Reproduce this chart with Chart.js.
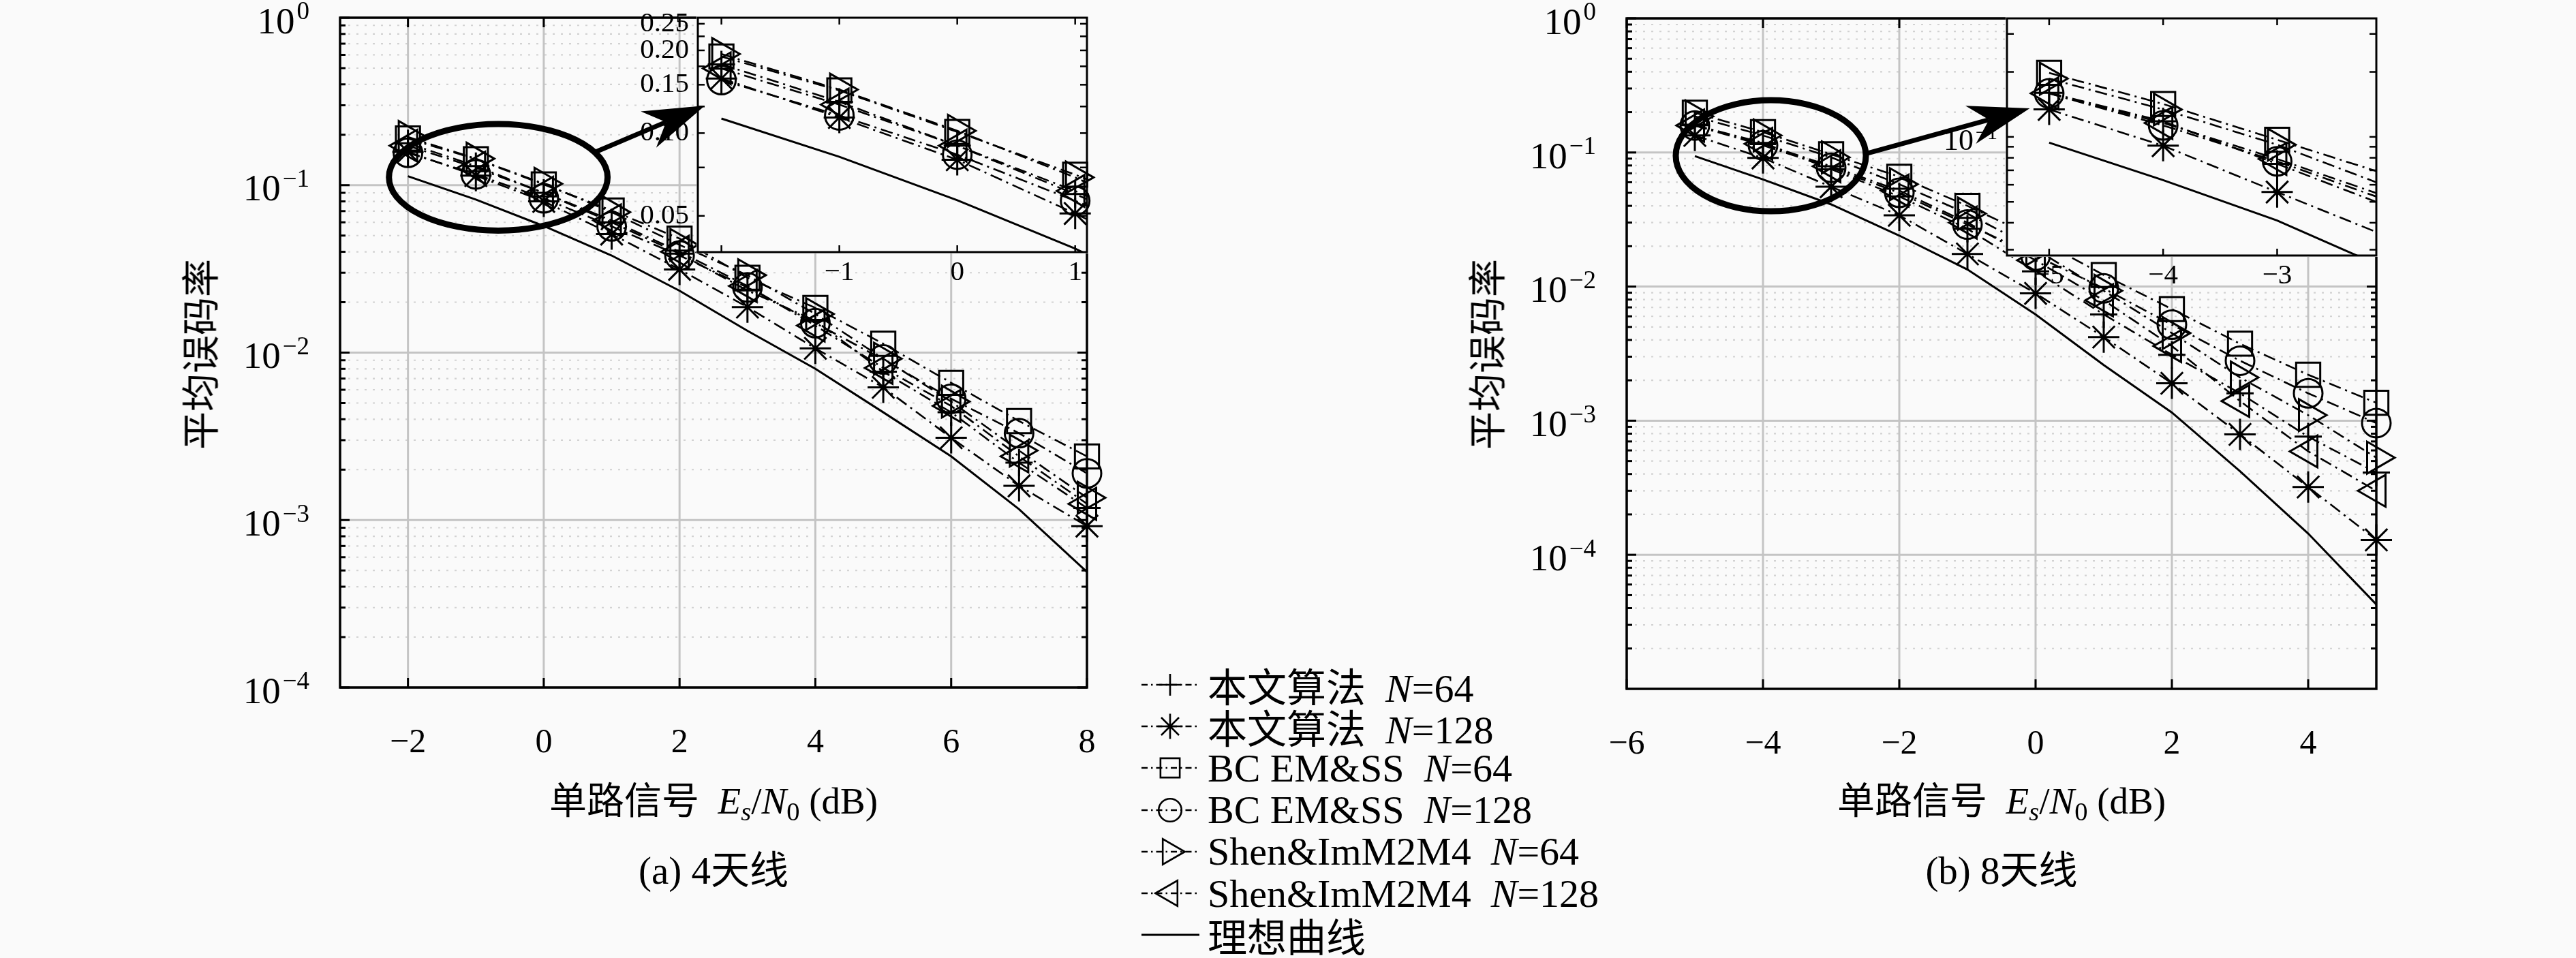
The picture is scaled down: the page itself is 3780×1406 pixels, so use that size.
<!DOCTYPE html>
<html>
<head>
<meta charset="utf-8">
<script src="https://cdn.jsdelivr.net/npm/chart.js@4.4.1/dist/chart.umd.min.js"></script>
<style>
html, body { margin: 0; padding: 0; background: #fafafa; }
body { width: 3780px; height: 1406px; position: relative; overflow: hidden;
       font-family: "Liberation Serif", "Noto Sans CJK SC", serif; color: #000; }
canvas { position: absolute; display: block; }
.lbl { position: absolute; white-space: nowrap; transform: translate(-50%, -50%); z-index: 5; }
.xt { font-size: 55px; }
.cap { font-size: 57px; }
.yt { font-size: 56px; transform: translate(-50%, -50%) rotate(-90deg); }
sub { font-size: 0.7em; vertical-align: -0.25em; line-height: 0; }
#legend { position: absolute; left: 1672px; top: 974px; z-index: 5; font-size: 58px; }
.row { height: 61.3px; display: flex; align-items: center; white-space: nowrap; }
.row canvas { position: static; width: 95px; height: 60px; margin-right: 5px; }
</style>
</head>
<body>

<canvas id="mainA" width="1700" height="1406" style="left:0;top:0;z-index:1"></canvas>
<canvas id="mainB" width="1780" height="1406" style="left:2000px;top:0;z-index:1"></canvas>
<canvas id="insetA" width="730" height="470" style="left:880px;top:0;z-index:2"></canvas>
<canvas id="insetB" width="700" height="470" style="left:2800px;top:0;z-index:2"></canvas>
<canvas id="overlay" width="3780" height="1406" style="left:0;top:0;z-index:3"></canvas>

<div class="lbl yt" style="left:290px;top:520px">平均误码率</div>
<div class="lbl yt" style="left:2178px;top:520px">平均误码率</div>
<div class="lbl xt" style="left:1047px;top:1170px">单路信号&ensp;<i>E</i><sub><i>s</i></sub>/<i>N</i><sub>0</sub>&nbsp;(dB)</div>
<div class="lbl xt" style="left:2937px;top:1170px">单路信号&ensp;<i>E</i><sub><i>s</i></sub>/<i>N</i><sub>0</sub>&nbsp;(dB)</div>
<div class="lbl cap" style="left:1047px;top:1272px">(a) 4天线</div>
<div class="lbl cap" style="left:2937px;top:1272px">(b) 8天线</div>
<div id="legend"></div>

<script>
// ---------- (a) 4 antennas ----------
var snrA = [-2, -1, 0, 1, 2, 3, 4, 5, 6, 7, 8];
var oursA64  = [0.178, 0.130, 0.090, 0.060, 0.039, 0.0235, 0.0155, 0.0077, 0.0044, 0.0022, 0.00118];
var oursA128 = [0.158, 0.114, 0.080, 0.051, 0.0314, 0.0187, 0.0106, 0.0062, 0.0031, 0.0016, 0.00092];
var bcA64    = [0.190, 0.143, 0.101, 0.0706, 0.048, 0.028, 0.0185, 0.0113, 0.0066, 0.0039, 0.0024];
var bcA128   = [0.156, 0.116, 0.0835, 0.0567, 0.038, 0.0245, 0.015, 0.0091, 0.0053, 0.0033, 0.0019];
var shenA64  = [0.194, 0.144, 0.102, 0.069, 0.044, 0.029, 0.017, 0.0092, 0.0051, 0.0026, 0.00136];
var shenA128 = [0.172, 0.127, 0.090, 0.0616, 0.040, 0.025, 0.0145, 0.0081, 0.0048, 0.0024, 0.00125];
var idealA   = [0.113, 0.082, 0.057, 0.038, 0.0234, 0.0135, 0.0080, 0.0044, 0.0024, 0.00116, 0.00049];

// ---------- (b) 8 antennas ----------
var snrB = [-5, -4, -3, -2, -1, 0, 1, 2, 3, 4, 5];
var oursB64  = [0.160, 0.118, 0.075, 0.047, 0.027, 0.013, 0.0062, 0.0031, 0.0016, 0.00076, 0.00041];
var oursB128 = [0.134, 0.091, 0.0555, 0.034, 0.0175, 0.0089, 0.0042, 0.0019, 0.00079, 0.00032, 0.000129];
var bcB64    = [0.198, 0.142, 0.097, 0.066, 0.040, 0.023, 0.0122, 0.0068, 0.00375, 0.0022, 0.00136];
var bcB128   = [0.159, 0.113, 0.077, 0.050, 0.029, 0.017, 0.0097, 0.0052, 0.0028, 0.0016, 0.00096];
var shenB64  = [0.186, 0.134, 0.092, 0.058, 0.035, 0.019, 0.0093, 0.0045, 0.0021, 0.0011, 0.00053];
var shenB128 = [0.159, 0.116, 0.079, 0.052, 0.030, 0.0157, 0.0079, 0.0036, 0.0014, 0.00059, 0.00030];
var idealB   = [0.094, 0.063, 0.041, 0.024, 0.0134, 0.0062, 0.0026, 0.00115, 0.00042, 0.000144, 0.0000426];

// legend text
var algNames = ["本文算法", "本文算法", "BC EM&SS", "BC EM&SS", "Shen&ImM2M4", "Shen&ImM2M4"];
var algN = [64, 128, 64, 128, 64, 128];
var idealName = "理想曲线";

// ticks
var xTicksA = [-2, 0, 2, 4, 6, 8];
var xTicksB = [-6, -4, -2, 0, 2, 4];
var yExpA = [0, -1, -2, -3, -4];
var yExpB = [0, -1, -2, -3, -4];
var inAxTicks = [-2, -1, 0, 1];
var inAxLabels = [-1, 0, 1];
var inAyTicks = [0.05, 0.075, 0.1, 0.125, 0.15, 0.175, 0.2, 0.225, 0.25];
var inAyLabels = ["0.05", "0.10", "0.15", "0.20", "0.25"];
var inBxTicks = [-5, -4, -3];
var inByTicks = [0.03, 0.04, 0.05, 0.06, 0.07, 0.08, 0.09, 0.1, 0.2, 0.3];
var inByExp = [-1];

// styles (not data)
var SERIF = '"Liberation Serif", serif';
var BG = '#fafafa';
var GRID = '#c4c4c4';
var GRID_MINOR = '#d2d2d2';
var DASH_DOT = [18, 7, 3, 7];
var markers = [
  { pointStyle: 'cross', rotation: 0, radius: 20 },
  { pointStyle: 'star', rotation: 0, radius: 23 },
  { pointStyle: 'rect', rotation: 0, radius: 25 },
  { pointStyle: 'circle', rotation: 0, radius: 21 },
  { pointStyle: 'triangle', rotation: 90, radius: 27 },
  { pointStyle: 'triangle', rotation: -90, radius: 27 }
];

function fmt(v) { return String(v).replace('-', '\u2212'); }
function pts(xs, ys) { return xs.map(function (x, i) { return { x: x, y: ys[i] }; }); }

function lineSet(label, xs, ys, dash) {
  return { label: label, data: pts(xs, ys), borderColor: '#000', borderWidth: dash.length ? 2.6 : 3,
           borderDash: dash, pointRadius: 0, fill: false, tension: 0 };
}

function mainSets(xs, series, ideal) {
  var sets = series.map(function (ys, i) {
    var m = markers[i];
    return { label: algNames[i] + ' N=' + algN[i], data: pts(xs, ys),
             borderColor: '#000', borderWidth: 2.6, borderDash: DASH_DOT, fill: false, tension: 0,
             pointStyle: m.pointStyle, pointRotation: m.rotation, pointRadius: m.radius,
             pointHoverRadius: m.radius, pointBorderColor: '#000', pointBorderWidth: 3,
             pointBackgroundColor: 'rgba(0,0,0,0)', clip: false };
  });
  var id = lineSet(idealName, xs, ideal, []);
  id.clip = false;
  sets.push(id);
  return sets;
}

function insetSets(xs, series, ideal, xmin, xmax) {
  var sets = [];
  series.forEach(function (ys, i) {
    var m = markers[i];
    sets.push(lineSet(algNames[i], xs, ys, DASH_DOT));
    sets.push({ label: algNames[i], data: pts(xs, ys), showLine: false, clip: false,
                pointStyle: m.pointStyle, pointRotation: m.rotation,
                pointRadius: function (c) { return c.raw && c.raw.x >= xmin && c.raw.x <= xmax ? m.radius : 0; },
                pointBorderColor: '#000', pointBorderWidth: 3, pointBackgroundColor: 'rgba(0,0,0,0)' });
  });
  sets.push(lineSet(idealName, xs, ideal, []));
  return sets;
}

function hline(ctx, x1, x2, y) { ctx.beginPath(); ctx.moveTo(x1, y); ctx.lineTo(x2, y); ctx.stroke(); }
function vline(ctx, x, y1, y2) { ctx.beginPath(); ctx.moveTo(x, y1); ctx.lineTo(x, y2); ctx.stroke(); }

function logMinors(min, max) {
  var out = [];
  for (var e = Math.floor(Math.log10(min)); e < Math.ceil(Math.log10(max)); e++) {
    for (var k = 2; k <= 9; k++) {
      var v = k * Math.pow(10, e);
      if (v > min * 1.0001 && v < max * 0.9999) out.push(v);
    }
  }
  return out;
}

// "10" with superscript exponent, right aligned at xr
function drawPow(ctx, exp, xr, ymid, big, small) {
  var sup = exp === 0 ? '0' : '\u2212' + (-exp);
  ctx.textAlign = 'left';
  ctx.textBaseline = 'alphabetic';
  ctx.font = small + 'px ' + SERIF;
  var ws = ctx.measureText(sup).width;
  ctx.font = big + 'px ' + SERIF;
  var wb = ctx.measureText('10').width;
  var base = ymid + 0.34 * big + 4;
  ctx.fillText('10', xr - ws - wb - 3, base);
  ctx.font = small + 'px ' + SERIF;
  ctx.fillText(sup, xr - ws, base - 0.37 * big);
}

// grid, box, inward ticks and log labels for the main axes
var mframe = {
  id: 'mframe',
  beforeDatasetsDraw: function (chart, args, o) {
    var ctx = chart.ctx, a = chart.chartArea, x = chart.scales.x, y = chart.scales.y;
    ctx.save();
    ctx.strokeStyle = GRID_MINOR;
    ctx.lineWidth = 2.2;
    ctx.setLineDash([3, 9]);
    logMinors(y.min, y.max).forEach(function (v) { hline(ctx, a.left, a.right, y.getPixelForValue(v)); });
    ctx.setLineDash([]);
    ctx.strokeStyle = GRID;
    ctx.lineWidth = 3;
    o.yExp.forEach(function (e) { hline(ctx, a.left, a.right, y.getPixelForValue(Math.pow(10, e))); });
    o.xTicks.forEach(function (v) { vline(ctx, x.getPixelForValue(v), a.top, a.bottom); });
    ctx.restore();
  },
  afterDatasetsDraw: function (chart, args, o) {
    var ctx = chart.ctx, a = chart.chartArea, x = chart.scales.x, y = chart.scales.y;
    ctx.save();
    ctx.strokeStyle = '#000';
    ctx.fillStyle = '#000';
    ctx.lineWidth = 3;
    o.xTicks.forEach(function (v) {
      var px = x.getPixelForValue(v);
      vline(ctx, px, a.bottom, a.bottom - 14);
      vline(ctx, px, a.top, a.top + 14);
    });
    logMinors(y.min, y.max).forEach(function (v) {
      var py = y.getPixelForValue(v);
      hline(ctx, a.left, a.left + 8, py);
      hline(ctx, a.right, a.right - 8, py);
    });
    o.yExp.forEach(function (e) {
      var py = y.getPixelForValue(Math.pow(10, e));
      hline(ctx, a.left, a.left + 14, py);
      hline(ctx, a.right, a.right - 14, py);
      drawPow(ctx, e, a.left - 45, py, 55, 37);
    });
    ctx.lineWidth = 3.5;
    ctx.strokeRect(a.left, a.top, a.right - a.left, a.bottom - a.top);
    ctx.restore();
  }
};

// filled box, border, inward ticks and labels for the insets
var iframe = {
  id: 'iframe',
  beforeDatasetsDraw: function (chart) {
    var ctx = chart.ctx, a = chart.chartArea;
    ctx.save();
    ctx.fillStyle = BG;
    ctx.fillRect(a.left - 2, a.top - 2, a.right - a.left + 4, a.bottom - a.top + 4);
    ctx.restore();
  },
  afterDatasetsDraw: function (chart, args, o) {
    var ctx = chart.ctx, a = chart.chartArea, x = chart.scales.x, y = chart.scales.y;
    ctx.save();
    ctx.strokeStyle = '#000';
    ctx.fillStyle = '#000';
    ctx.lineWidth = 2.5;
    o.xTicks.forEach(function (v) {
      var px = x.getPixelForValue(v);
      vline(ctx, px, a.bottom, a.bottom - 10);
      vline(ctx, px, a.top, a.top + 10);
    });
    o.yTicks.forEach(function (v) {
      var py = y.getPixelForValue(v);
      hline(ctx, a.left, a.left + 10, py);
      hline(ctx, a.right, a.right - 10, py);
    });
    ctx.lineWidth = 3;
    ctx.strokeRect(a.left, a.top, a.right - a.left, a.bottom - a.top);
    ctx.font = '41px ' + SERIF;
    ctx.textAlign = 'center';
    ctx.textBaseline = 'middle';
    o.xLabels.forEach(function (v) { ctx.fillText(fmt(v), x.getPixelForValue(v), a.bottom + 30); });
    if (o.yLabels) {
      ctx.textAlign = 'right';
      o.yLabels.forEach(function (t) { ctx.fillText(t, a.left - 13, y.getPixelForValue(parseFloat(t))); });
    }
    if (o.yExp) {
      o.yExp.forEach(function (e) { drawPow(ctx, e, a.left - 14, y.getPixelForValue(Math.pow(10, e)), 44, 30); });
    }
    ctx.restore();
  }
};

var common = { responsive: false, devicePixelRatio: 1, animation: false, events: [] };

function mainChart(id, xs, series, ideal, xr, yr, xTicks, yExp, pad) {
  return new Chart(document.getElementById(id), {
    type: 'line',
    data: { datasets: mainSets(xs, series, ideal) },
    options: Object.assign({}, common, {
      layout: { padding: pad, autoPadding: false },
      plugins: { legend: { display: false }, tooltip: { enabled: false }, mframe: { xTicks: xTicks, yExp: yExp } },
      scales: {
        x: { type: 'linear', min: xr[0], max: xr[1],
             afterBuildTicks: function (s) { s.ticks = xTicks.map(function (v) { return { value: v }; }); },
             afterFit: function (s) { s.height = 100; },
             grid: { display: false }, border: { display: false },
             ticks: { padding: 44, color: '#000', autoSkip: false, maxRotation: 0,
                      font: { family: SERIF, size: 50 }, callback: function (v) { return fmt(v); } } },
        y: { type: 'logarithmic', min: yr[0], max: yr[1],
             afterFit: function (s) { s.width = 120; },
             grid: { display: false }, border: { display: false }, ticks: { display: false } }
      }
    }),
    plugins: [mframe]
  });
}

function insetChart(id, xs, series, ideal, xr, yr, pad, frameOpts) {
  return new Chart(document.getElementById(id), {
    type: 'line',
    data: { datasets: insetSets(xs, series, ideal, xr[0], xr[1]) },
    options: Object.assign({}, common, {
      layout: { padding: pad, autoPadding: false },
      plugins: { legend: { display: false }, tooltip: { enabled: false }, iframe: frameOpts },
      scales: {
        x: { type: 'linear', min: xr[0], max: xr[1], display: false },
        y: { type: 'logarithmic', min: yr[0], max: yr[1], display: false }
      }
    }),
    plugins: [iframe]
  });
}

var seriesA = [oursA64, oursA128, bcA64, bcA128, shenA64, shenA128];
var seriesB = [oursB64, oursB128, bcB64, bcB128, shenB64, shenB128];

var chartA = mainChart('mainA', snrA, seriesA, idealA, [-3, 8], [1e-4, 1], xTicksA, yExpA,
                       { left: 379, top: 26, right: 105, bottom: 297 });
var chartB = mainChart('mainB', snrB, seriesB, idealB, [-6, 5], [1e-5, 1], xTicksB, yExpB,
                       { left: 267, top: 27, right: 293, bottom: 295 });
var zoomA = insetChart('insetA', snrA, seriesA, idealA, [-2.2, 1.1], [0.0369, 0.263],
                       { left: 144, top: 26, right: 15, bottom: 100 },
                       { xTicks: inAxTicks, xLabels: inAxLabels, yTicks: inAyTicks, yLabels: inAyLabels });
var zoomB = insetChart('insetB', snrB, seriesB, idealB, [-5.37, -2.13], [0.0282, 0.354],
                       { left: 145, top: 27, right: 13, bottom: 95 },
                       { xTicks: inBxTicks, xLabels: inBxTicks, yTicks: inByTicks, yExp: inByExp });

// ellipse + arrow marking the zoomed region (given in axis units)
var markA = { cx: -0.67, cy: 0.1114, rx: 1.61, ryDec: 0.318, from: -28, toX: -2.14, toY: 0.126 };
var markB = { cx: -3.885, cy: 0.0946, rx: 1.395, ryDec: 0.414, from: -2, toX: -5.17, toY: 0.1355 };

function pagePt(chart, xv, yv) {
  var c = chart.canvas;
  return [c.offsetLeft + chart.scales.x.getPixelForValue(xv), c.offsetTop + chart.scales.y.getPixelForValue(yv)];
}

function drawMark(ctx, main, inset, m) {
  var c = pagePt(main, m.cx, m.cy);
  var rx = pagePt(main, m.cx + m.rx, m.cy)[0] - c[0];
  var ry = c[1] - pagePt(main, m.cx, m.cy * Math.pow(10, m.ryDec))[1];
  ctx.strokeStyle = '#000';
  ctx.fillStyle = '#000';
  ctx.lineWidth = 9;
  ctx.beginPath();
  ctx.ellipse(c[0], c[1], rx, ry, 0, 0, 2 * Math.PI);
  ctx.stroke();
  var t = m.from * Math.PI / 180;
  var sx = c[0] + rx * Math.cos(t), sy = c[1] + ry * Math.sin(t);
  var tip = pagePt(inset, m.toX, m.toY);
  var len = Math.hypot(tip[0] - sx, tip[1] - sy);
  var ux = (tip[0] - sx) / len, uy = (tip[1] - sy) / len, nx = -uy, ny = ux;
  var L = 90, W = 29, K = 62;
  var bx = tip[0] - ux * L, by = tip[1] - uy * L;
  var kx = tip[0] - ux * K, ky = tip[1] - uy * K;
  ctx.lineWidth = 7;
  ctx.beginPath(); ctx.moveTo(sx, sy); ctx.lineTo(kx, ky); ctx.stroke();
  ctx.beginPath();
  ctx.moveTo(tip[0], tip[1]);
  ctx.lineTo(bx + nx * W, by + ny * W);
  ctx.lineTo(kx, ky);
  ctx.lineTo(bx - nx * W, by - ny * W);
  ctx.closePath();
  ctx.fill();
}

var ov = document.getElementById('overlay').getContext('2d');
drawMark(ov, chartA, zoomA, markA);
drawMark(ov, chartB, zoomB, markB);

// legend
function drawMarker(ctx, m, x, y, r) {
  var rad = m.rotation * Math.PI / 180;
  ctx.beginPath();
  if (m.pointStyle === 'circle') {
    ctx.arc(x, y, r, 0, 2 * Math.PI);
  } else if (m.pointStyle === 'rect') {
    var s = r * Math.SQRT1_2;
    ctx.rect(x - s, y - s, 2 * s, 2 * s);
  } else if (m.pointStyle === 'cross') {
    ctx.moveTo(x, y - r); ctx.lineTo(x, y + r); ctx.moveTo(x - r, y); ctx.lineTo(x + r, y);
  } else if (m.pointStyle === 'star') {
    for (var k = 0; k < 4; k++) {
      var a = k * Math.PI / 4;
      ctx.moveTo(x - Math.cos(a) * r, y - Math.sin(a) * r);
      ctx.lineTo(x + Math.cos(a) * r, y + Math.sin(a) * r);
    }
  } else if (m.pointStyle === 'triangle') {
    for (var j = 0; j < 3; j++) {
      var b = rad + j * 2 * Math.PI / 3;
      var px = x + Math.sin(b) * r, py = y - Math.cos(b) * r;
      if (j) ctx.lineTo(px, py); else ctx.moveTo(px, py);
    }
    ctx.closePath();
  }
  ctx.stroke();
}

var legend = document.getElementById('legend');
function addRow(html, m) {
  var row = document.createElement('div');
  row.className = 'row';
  var cv = document.createElement('canvas');
  cv.width = 95; cv.height = 60;
  var g = cv.getContext('2d');
  g.strokeStyle = '#000';
  g.lineWidth = m ? 2.5 : 3;
  g.setLineDash(m ? [9, 5, 2.5, 5] : []);
  g.beginPath(); g.moveTo(3, 30); g.lineTo(88, 30); g.stroke();
  g.setLineDash([]);
  if (m) { g.lineWidth = 2.6; drawMarker(g, m, 45, 30, m.radius * 0.8); }
  var span = document.createElement('span');
  span.innerHTML = html;
  row.appendChild(cv);
  row.appendChild(span);
  legend.appendChild(row);
}
algNames.forEach(function (n, i) {
  var safe = n.replace(/&/g, '&amp;');
  addRow(safe + '&ensp;<i>N</i>=' + algN[i], markers[i]);
});
addRow(idealName, null);
</script>
</body>
</html>
